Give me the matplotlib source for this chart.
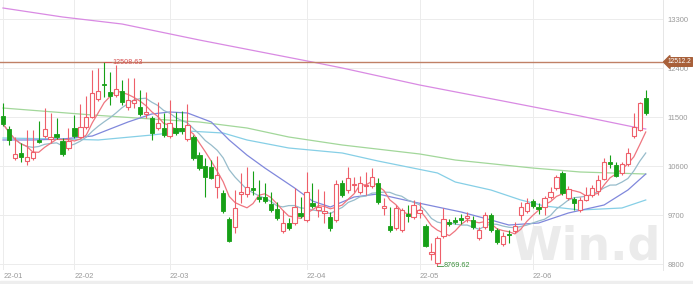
import matplotlib
matplotlib.use("Agg")
import matplotlib.pyplot as plt
import numpy as np
import pandas as pd
from matplotlib.transforms import blended_transform_factory

plt.rcParams["font.family"] = ["Liberation Sans", "DejaVu Sans"]

# ---------------- data ----------------
opens = [11518, 11280, 10747, 10839, 10692, 10747, 11078, 11151, 11096, 11188,
         11059, 10931, 11298, 11133, 11316, 11500, 11831, 12115, 11959, 11904,
         11978, 11684, 11757, 11684, 11555, 11482, 11298, 11298, 11151, 11298,
         11298, 11096, 11133, 10800, 10600, 10582, 10214, 10104, 9627, 9480,
         10086, 10086, 10196, 10031, 10031, 9902, 9810, 9406, 9553, 9553,
         9737, 9608, 9920, 9792, 9737, 9663, 9608, 10288, 10159, 10242,
         10122, 10233, 10233, 10288, 9829, 9498, 9461, 9425, 9718, 9663,
         9737, 9498, 8984, 8819, 9314, 9571, 9608, 9645, 9654, 9608,
         9278, 9480, 9700, 9425, 9168, 9351, 9406, 9700, 9774, 9957,
         9847, 9847, 10031, 10196, 10472, 10012, 9994, 9792, 9976, 10067,
         10141, 10361, 10674, 10618, 10472, 10637, 11151, 11261, 11849]
closes = [11372, 11078, 10821, 10765, 10765, 10857, 11050, 11280, 11133, 11133,
          10821, 11059, 11151, 11316, 11500, 11941, 11978, 12088, 11886, 12014,
          11775, 11812, 11812, 11555, 11592, 11206, 11390, 11169, 11390, 11206,
          11243, 11353, 10747, 10563, 10398, 10380, 10435, 9774, 9223, 9829,
          10122, 10214, 10159, 9994, 9957, 9792, 9645, 9553, 9461, 9847,
          9682, 10122, 9865, 9847, 9774, 9461, 10270, 10067, 10380, 10270,
          10288, 10260, 10398, 9939, 9865, 9425, 9829, 9792, 9682, 9884,
          9792, 9131, 9021, 9278, 9627, 9544, 9580, 9617, 9682, 9480,
          9425, 9700, 9425, 9204, 9314, 9324, 9498, 9847, 9920, 9865,
          9810, 10012, 10122, 10398, 10104, 10178, 9920, 9976, 10067, 10196,
          10343, 10674, 10637, 10417, 10637, 10839, 11316, 11757, 11574]
highs = [11757, 11335, 11133, 11024, 11261, 11261, 11427, 11665, 11574, 11482,
         11114, 11298, 11537, 11739, 11886, 12363, 12400, 12508.63, 12327, 12455,
         12180, 12216, 12216, 11996, 11959, 11518, 11775, 11574, 11812, 11592,
         11610, 11739, 11169, 10857, 10747, 10710, 10784, 10159, 9663, 10159,
         10472, 10582, 10508, 10343, 10288, 10122, 9939, 9792, 9645, 10196,
         10031, 10490, 10288, 10178, 10141, 9755, 10343, 10343, 10582, 10398,
         10417, 10490, 10563, 10380, 10012, 9847, 9884, 9829, 9884, 9976,
         9939, 9535, 9186, 9314, 9829, 9627, 9663, 9718, 9755, 9682,
         9480, 9755, 9737, 9461, 9388, 9425, 9571, 9939, 10012, 9994,
         9920, 10049, 10214, 10435, 10508, 10233, 10031, 10031, 10214, 10251,
         10435, 10747, 10800, 10674, 10674, 10931, 11574, 11775, 11996]
lows = [11335, 10986, 10710, 10674, 10618, 10710, 11024, 11114, 11024, 11096,
        10784, 10894, 11114, 11114, 11280, 11482, 11794, 11867, 11720, 11867,
        11720, 11629, 11665, 11518, 11482, 11078, 11261, 11133, 11114, 11169,
        11188, 11059, 10710, 10527, 10031, 10361, 10012, 9737, 9204, 9369,
        9920, 10031, 10067, 9939, 9920, 9755, 9608, 9369, 9425, 9516,
        9645, 9571, 9829, 9663, 9553, 9406, 9571, 10031, 10104, 10122,
        10086, 10067, 10196, 9902, 9700, 9388, 9425, 9388, 9571, 9627,
        9645, 9112, 8874, 8769.62, 9278, 9498, 9535, 9535, 9571, 9443,
        9241, 9443, 9388, 9168, 9131, 9186, 9369, 9608, 9737, 9829,
        9718, 9700, 9994, 10159, 10067, 9976, 9792, 9755, 9957, 10031,
        10067, 10343, 10563, 10398, 10435, 10600, 11114, 11243, 11537]

month_labels = ["22-01", "22-02", "22-03", "22-04", "22-05", "22-06"]
month_start = [0, 12, 28, 51, 70, 89]

y_ticks = [13300, 12400, 11500, 10600, 9700, 8800]

ma20_idx = [0, 5, 10, 15, 18, 21, 25, 28, 31, 35, 38, 41, 44, 49, 52, 55, 59, 63,
            69, 73, 77, 82, 85, 90, 95, 101, 105, 108]
ma20_val = [11078, 11078, 11096, 11151, 11280, 11408, 11555, 11592, 11574, 11408,
            11078, 10800, 10563, 10196, 9957, 9847, 10031, 10086, 9939, 9847,
            9755, 9608, 9516, 9553, 9737, 9884, 10159, 10453]
ma60_idx = [0, 10, 16, 25, 31, 37, 41, 48, 57, 63, 73, 76, 82, 87, 91, 97, 104, 108]
ma60_val = [11114, 11096, 11078, 11169, 11243, 11206, 11078, 10931, 10839, 10692,
            10472, 10306, 10159, 9976, 9865, 9792, 9829, 9976]
ma120_idx = [0, 15, 25, 33, 41, 48, 57, 70, 76, 89, 97, 108]
ma120_val = [11665, 11537, 11463, 11408, 11298, 11133, 10986, 10821, 10710, 10563,
             10490, 10453]
ma250_idx = [0, 10, 20, 33, 52, 57, 70, 84, 97, 106, 108]
ma250_val = [13502, 13337, 13208, 12914, 12510, 12400, 12088, 11794, 11518, 11316, 11280]

ref_level = 12512.2
max_label = "12508.63"
min_label = "8769.62"

# ---------------- figure ----------------
W, H = 693, 284
fig = plt.figure(figsize=(W / 100, H / 100), dpi=100)
ax = fig.add_axes([0, 14 / H, 663 / W, 270 / H])

n = len(opens)
x = np.arange(n)
ax.set_xlim(-0.504, 110.9)
ax.set_ylim(8690, 13649)

UP = "#ee5f6a"
DN = "#16a016"
GRID = "#ececec"

for yt in y_ticks:
    ax.axhline(yt, color=GRID, lw=0.7, zorder=0)
for ms in month_start:
    ax.axvline(ms, color=GRID, lw=0.7, zorder=0)

# watermark
ax.text(586 / 663, (270 - 247) / 270, "Win.d", transform=ax.transAxes,
        fontsize=33, color="#ebebeb", fontweight="bold", ha="center",
        va="center", zorder=0.5, family="DejaVu Sans")

# moving averages
cs = pd.Series(closes, dtype=float)
ma5 = cs.rolling(5, min_periods=1).mean()
ma10 = cs.rolling(10, min_periods=1).mean()
ax.plot(ma250_idx, ma250_val, color="#d98ae3", lw=0.9, zorder=2)
ax.plot(ma120_idx, ma120_val, color="#a2d79a", lw=0.9, zorder=2)
ax.plot(ma60_idx, ma60_val, color="#86cfe6", lw=0.9, zorder=2)
ax.plot(ma20_idx, ma20_val, color="#8088dc", lw=0.9, zorder=2)
ax.plot(x, ma10, color="#97bccb", lw=0.9, zorder=2)
ax.plot(x, ma5, color="#ef7680", lw=0.9, zorder=2)

# reference line
ax.axhline(ref_level, color="#c08066", lw=1.0, zorder=3)

# candles
bw = 0.72
for i in range(n):
    o, c, h, l = opens[i], closes[i], highs[i], lows[i]
    up = c >= o
    col = UP if up else DN
    lo, hi = min(o, c), max(o, c)
    ax.vlines(i, l, lo, color=col, lw=0.8, zorder=4)
    ax.vlines(i, hi, h, color=col, lw=0.8, zorder=4)
    hgt = max(hi - lo, 12)
    if up:
        ax.bar(i, hgt, bottom=lo, width=bw, facecolor="white", edgecolor=col,
               linewidth=0.8, zorder=5)
    else:
        ax.bar(i, hgt, bottom=lo, width=bw, facecolor=col, edgecolor=col,
               linewidth=0.6, zorder=5)

# max / min labels
imax = int(np.argmax(highs))
imin = int(np.argmin(lows))
ax.plot([imax, imax + 1.2], [highs[imax], highs[imax]], color="#d65050", lw=0.6, zorder=6)
ax.text(imax + 1.3, highs[imax], max_label, color="#d65050", fontsize=5.2,
        va="center", ha="left", zorder=6)
ax.plot([imin, imin + 1.0], [lows[imin], lows[imin]], color="#3b8f3b", lw=0.6, zorder=6)
ax.text(imin + 1.1, lows[imin], min_label, color="#3b8f3b", fontsize=5.2,
        va="center", ha="left", zorder=6)

# axes styling
for s in ["top", "left", "bottom"]:
    ax.spines[s].set_visible(False)
ax.spines["right"].set_color("#e6e6e6")
ax.spines["right"].set_linewidth(0.7)
ax.set_xticks([])
ax.yaxis.tick_right()
ax.set_yticks(y_ticks)
ax.set_yticklabels([f"{v}" for v in y_ticks])
ax.tick_params(axis="y", length=0, pad=3, labelsize=5.5, labelcolor="#9a9a9a")

trans = blended_transform_factory(ax.transData, ax.transAxes)
for lab, ms in zip(month_labels, month_start):
    ax.text(ms + 0.05, -6 / 270, lab, transform=trans, fontsize=5.5,
            color="#9a9a9a", ha="left", va="center")

# price tag on right
fig.text(668 / W, 1 - 62 / H, f"{ref_level:.1f}", fontsize=4.8, color="white",
         ha="left", va="center",
         bbox=dict(boxstyle="larrow,pad=0.12", fc="#a8603a", ec="#a8603a"))

# bottom strip
fig.patches.append(plt.Rectangle((0, 0), 1, 3 / H, transform=fig.transFigure,
                                 color="#eeeeee", zorder=0))

fig.savefig("out.png", dpi=100)
